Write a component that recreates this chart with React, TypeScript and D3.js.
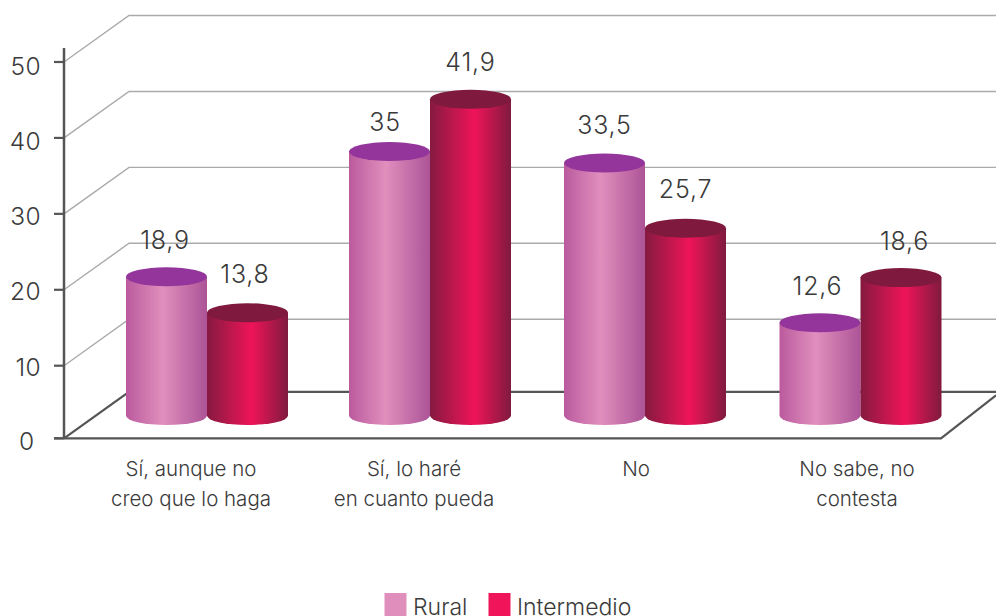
import React from "react";
import * as d3 from "d3";

const categories = [
  ["Sí, aunque no", "creo que lo haga"],
  ["Sí, lo haré", "en cuanto pueda"],
  ["No"],
  ["No sabe, no", "contesta"],
];
const seriesNames = ["Rural", "Intermedio"];
const ruralLabels = ["18,9", "35", "33,5", "12,6"];
const intermedioLabels = ["13,8", "41,9", "25,7", "18,6"];
// Heights as drawn (the picture's cylinders differ slightly from their printed labels)
const ruralLevels = [18.72, 35.2, 33.7, 12.66];
const intermedioLevels = [13.98, 42.1, 25.1, 18.6];
const yTicks = [0, 10, 20, 30, 40, 50];

const ruralNudge: [number, number][] = [[-1.5, 1], [-4.5, 8], [0, 0], [-2.5, 1]];
const interNudge: [number, number][] = [[-2.5, -1], [0, 0], [0, -2], [3.5, 1]];
const tickDy = [11.7, 10.4, 10.7, 11.2, 12, 13];

const font = "Inter, 'Open Sans', sans-serif";
const ink = "#3a3a3a";
const axisColor = "#555555";
const gridColor = "#aaaaaa";

// The reference's axis has a shorter first interval, so the scale is piecewise
const y = d3.scaleLinear().domain([0, 10, 50]).range([438.3, 365.7, 62]);
const x = d3.scaleLinear().domain([0, 1, 2, 3]).range([207, 430, 645, 860.5]);
const labelX = d3.scaleLinear().domain([0, 1, 2, 3]).range([191, 414, 636, 857]);

const depthX = 65;
const depthY = 46.5;
const axisX = 64;
const floorRight = 941;
const rx = 40.5;
const ry = 9.5;
const baseLift = 22.8;

const gridPath = d3.line<[number, number]>();

function Cylinder({ cx, level, body, top }: { cx: number; level: number; body: string; top: string }) {
  const topY = y(level) - baseLift;
  const baseY = y(0) - baseLift;
  const d = `M${cx - rx},${topY}L${cx - rx},${baseY}A${rx},${ry} 0 0 0 ${cx + rx},${baseY}L${cx + rx},${topY}Z`;
  return (
    <g>
      <path d={d} fill={`url(#${body})`} />
      <ellipse cx={cx} cy={topY} rx={rx} ry={ry} fill={top} />
    </g>
  );
}

export default function App() {
  return (
    <svg width={996} height={616} style={{ position: "absolute", left: 0, top: 0, background: "#fff" }}>
      <defs>
        <linearGradient id="ruralBody">
          <stop offset="0" stopColor="#bb5a9e" />
          <stop offset="0.45" stopColor="#e08fbd" />
          <stop offset="1" stopColor="#ac5497" />
        </linearGradient>
        <linearGradient id="interBody">
          <stop offset="0" stopColor="#851a40" />
          <stop offset="0.55" stopColor="#ef1459" />
          <stop offset="1" stopColor="#7f1a3e" />
        </linearGradient>
      </defs>

      {yTicks.filter((t) => t > 0).map((t) => (
        <path
          key={t}
          d={gridPath([[axisX, y(t)], [axisX + depthX, y(t) - depthY], [996, y(t) - depthY]]) ?? ""}
          fill="none"
          stroke={gridColor}
          strokeWidth={1.4}
        />
      ))}

      <path
        d={gridPath([[axisX, y(0)], [axisX + depthX, y(0) - depthY], [996, y(0) - depthY]]) ?? ""}
        fill="none"
        stroke={axisColor}
        strokeWidth={2.2}
      />
      <path
        d={gridPath([[54, y(0)], [floorRight, y(0)], [996, y(0) - 43]]) ?? ""}
        fill="none"
        stroke={axisColor}
        strokeWidth={2.2}
      />
      <line x1={axisX} x2={axisX} y1={48} y2={y(0)} stroke={axisColor} strokeWidth={2.5} />

      {yTicks.map((t, i) => (
        <g key={t}>
          <line x1={54} x2={axisX} y1={y(t)} y2={y(t)} stroke={axisColor} strokeWidth={2.2} />
          <text x={t === 0 ? 34.5 : 41} y={y(t) + tickDy[i]} textAnchor="end" fontFamily={font} fontWeight={300} fontSize={24.5} letterSpacing={0.4} fill={ink}>
            {t}
          </text>
        </g>
      ))}

      {categories.map((_, i) => (
        <g key={i}>
          <Cylinder cx={x(i) - rx} level={ruralLevels[i]} body="ruralBody" top="#93359a" />
          <Cylinder cx={x(i) + rx} level={intermedioLevels[i]} body="interBody" top="#7f1a3e" />
        </g>
      ))}

      {categories.map((_, i) => (
        <g key={i} fontFamily={font} fontWeight={300} fontSize={25} letterSpacing={0.8} fill={ink} textAnchor="middle">
          <text x={x(i) - rx + ruralNudge[i][0]} y={y(ruralLevels[i]) - baseLift - 28.5 + ruralNudge[i][1]}>{ruralLabels[i]}</text>
          <text x={x(i) + rx + interNudge[i][0]} y={y(intermedioLevels[i]) - baseLift - 28.5 + interNudge[i][1]}>{intermedioLabels[i]}</text>
        </g>
      ))}

      {categories.map((lines, i) => (
        <text key={i} textAnchor="middle" fontFamily={font} fontWeight={300} fontSize={20.5} fill={ink}>
          {lines.map((l, j) => (
            <tspan key={j} x={labelX(i)} y={476 + j * 30}>{l}</tspan>
          ))}
        </text>
      ))}

      <rect x={384.5} y={593} width={22} height={23} fill="#e08fbd" />
      <text x={413} y={614.5} fontFamily={font} fontWeight={300} fontSize={23} fill={ink}>{seriesNames[0]}</text>
      <rect x={488.5} y={593} width={22} height={23} fill="#f0145a" />
      <text x={517} y={614.5} fontFamily={font} fontWeight={300} fontSize={23} fill={ink}>{seriesNames[1]}</text>
    </svg>
  );
}
